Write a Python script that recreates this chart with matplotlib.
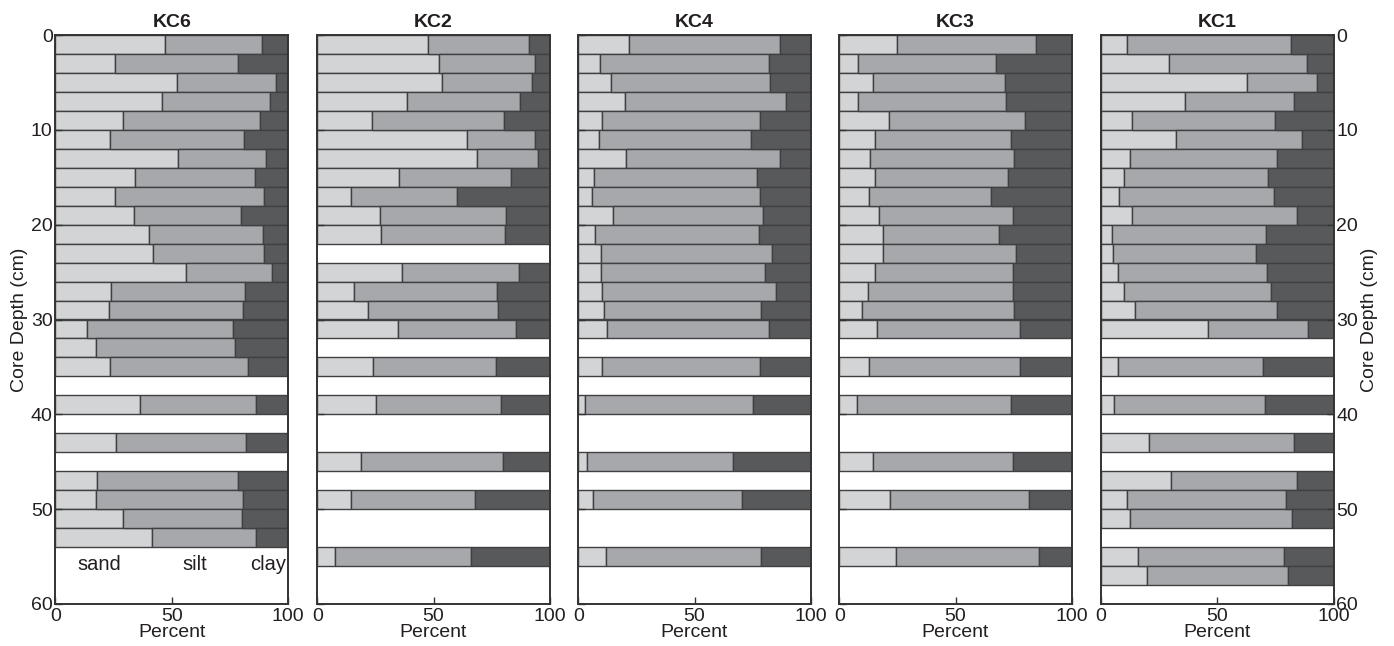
import matplotlib
matplotlib.use("Agg")
import matplotlib.pyplot as plt

plt.rcParams['font.family'] = ['Liberation Sans', 'DejaVu Sans']

cores = ["KC6", "KC2", "KC4", "KC3", "KC1"]

# depth of top of each 2-cm interval (cm)
kc6_depth = [0, 2, 4, 6, 8, 10, 12, 14, 16, 18, 20, 22, 24, 26, 28, 30, 32, 34, 38, 42, 46, 48, 50, 52]
kc6_sand = [47.3, 25.5, 52.1, 45.6, 29.1, 23.6, 52.8, 34.1, 25.5, 33.7, 40.3, 42.0, 56.1, 23.7, 22.9, 13.5, 17.6, 23.3, 36.4, 25.9, 17.8, 17.6, 29.1, 41.6]
kc6_silt = [41.5, 52.8, 42.9, 46.5, 58.7, 57.6, 37.7, 51.5, 64.3, 46.2, 48.9, 47.8, 37.0, 57.9, 57.9, 63.0, 59.8, 59.7, 49.8, 56.0, 60.9, 63.0, 51.0, 44.6]
kc6_clay = [11.2, 21.7, 5.0, 7.9, 12.2, 18.8, 9.5, 14.4, 10.2, 20.1, 10.8, 10.2, 6.9, 18.4, 19.2, 23.5, 22.6, 17.0, 13.8, 18.1, 21.3, 19.4, 19.9, 13.8]

kc2_depth = [0, 2, 4, 6, 8, 10, 12, 14, 16, 18, 20, 24, 26, 28, 30, 34, 38, 44, 48, 54]
kc2_sand = [47.6, 52.4, 53.7, 38.6, 23.6, 64.2, 68.5, 35.1, 14.4, 27.1, 27.6, 36.5, 15.8, 21.6, 34.7, 23.9, 25.3, 18.8, 14.5, 7.5]
kc2_silt = [43.6, 41.3, 38.7, 48.6, 56.7, 29.3, 26.6, 48.1, 45.5, 54.2, 53.3, 50.3, 61.6, 56.1, 50.8, 53.1, 53.5, 61.1, 53.3, 58.5]
kc2_clay = [8.8, 6.3, 7.6, 12.8, 19.7, 6.5, 4.9, 16.8, 40.1, 18.7, 19.1, 13.2, 22.6, 22.3, 14.5, 23.0, 21.2, 20.1, 32.2, 34.0]

kc4_depth = [0, 2, 4, 6, 8, 10, 12, 14, 16, 18, 20, 22, 24, 26, 28, 30, 34, 38, 44, 48, 54]
kc4_sand = [21.6, 9.4, 14.0, 20.1, 10.2, 8.9, 20.6, 6.8, 5.8, 14.8, 7.3, 9.6, 9.6, 10.1, 10.9, 12.4, 10.4, 3.0, 3.9, 6.2, 11.9]
kc4_silt = [65.2, 72.6, 68.3, 69.4, 67.8, 65.2, 66.0, 69.9, 72.2, 64.8, 70.4, 73.6, 70.7, 74.8, 67.8, 69.6, 67.7, 72.0, 62.7, 64.3, 66.8]
kc4_clay = [13.2, 18.0, 17.7, 10.5, 22.0, 25.9, 13.4, 23.3, 22.0, 20.4, 22.3, 16.8, 19.7, 15.1, 21.3, 18.0, 21.9, 25.0, 33.4, 29.5, 21.3]

kc3_depth = [0, 2, 4, 6, 8, 10, 12, 14, 16, 18, 20, 22, 24, 26, 28, 30, 34, 38, 44, 48, 54]
kc3_sand = [24.7, 7.9, 14.3, 8.2, 21.5, 15.5, 13.2, 15.4, 12.6, 16.9, 18.9, 18.8, 15.4, 12.5, 9.8, 16.4, 12.6, 7.5, 14.6, 22.0, 24.4]
kc3_silt = [59.9, 59.4, 57.0, 63.4, 58.4, 58.2, 62.1, 57.1, 52.7, 58.0, 50.0, 57.2, 59.5, 62.4, 65.5, 61.4, 65.2, 66.2, 59.9, 59.6, 61.4]
kc3_clay = [15.4, 32.7, 28.7, 28.4, 20.1, 26.3, 24.7, 27.5, 34.7, 25.1, 31.1, 24.0, 25.1, 25.1, 24.7, 22.2, 22.2, 26.3, 25.5, 18.4, 14.2]

kc1_depth = [0, 2, 4, 6, 8, 10, 12, 14, 16, 18, 20, 22, 24, 26, 28, 30, 34, 38, 42, 46, 48, 50, 54, 56]
kc1_sand = [11.1, 29.3, 62.9, 36.1, 13.3, 32.1, 12.3, 9.7, 7.9, 13.3, 4.6, 5.3, 7.5, 9.7, 14.5, 46.2, 7.2, 5.8, 20.7, 29.9, 11.3, 12.3, 15.9, 19.8]
kc1_silt = [70.5, 59.1, 30.0, 47.0, 61.4, 54.2, 63.6, 62.1, 66.5, 70.8, 66.2, 61.2, 64.0, 63.3, 61.1, 43.0, 62.5, 64.7, 62.1, 54.6, 68.2, 69.8, 62.9, 60.8]
kc1_clay = [18.4, 11.6, 7.1, 16.9, 25.3, 13.7, 24.1, 28.2, 25.6, 15.9, 29.2, 33.5, 28.5, 27.0, 24.4, 10.8, 30.3, 29.5, 17.2, 15.5, 20.5, 17.9, 21.2, 19.4]

data = {
    "KC6": (kc6_depth, kc6_sand, kc6_silt, kc6_clay),
    "KC2": (kc2_depth, kc2_sand, kc2_silt, kc2_clay),
    "KC4": (kc4_depth, kc4_sand, kc4_silt, kc4_clay),
    "KC3": (kc3_depth, kc3_sand, kc3_silt, kc3_clay),
    "KC1": (kc1_depth, kc1_sand, kc1_silt, kc1_clay),
}

c_sand = "#d3d4d6"
c_silt = "#a7a8ab"
c_clay = "#58595b"
edge = "#404042"
txt = "#231f20"

fig = plt.figure(figsize=(13.94, 6.46), dpi=100)
W, H = 1394, 646
lefts_px = [55.5, 317.3, 578.3, 839.3, 1101.0]
width_px = 232.5
top_px, bot_px = 35, 604
fs = 14

for i, name in enumerate(cores):
    ax = fig.add_axes([lefts_px[i] / W, 1 - bot_px / H, width_px / W, (bot_px - top_px) / H])
    d, s, si, c = data[name]
    s_end = [a + b for a, b in zip(s, si)]
    kw = dict(height=2, align='edge', edgecolor=edge, linewidth=1.0)
    ax.barh(d, s, left=0, color=c_sand, **kw)
    ax.barh(d, si, left=s, color=c_silt, **kw)
    ax.barh(d, c, left=s_end, color=c_clay, **kw)
    ax.set_xlim(0, 100)
    ax.set_ylim(60, 0)
    ax.set_xticks([0, 50, 100])
    ax.set_yticks(range(0, 61, 10))
    ax.tick_params(direction='in', labelsize=fs, length=5, width=1, colors='#333333',
                   labelcolor=txt, pad=2)
    ax.tick_params(axis='x', pad=3)
    ax.set_xlabel("Percent", fontsize=fs, color=txt, labelpad=-1)
    ax.set_title(name, fontsize=fs, fontweight='bold', pad=6, color=txt)
    for sp in ax.spines.values():
        sp.set_linewidth(1.4)
        sp.set_color('#333333')
    if i == 0:
        ax.set_ylabel("Core Depth (cm)", fontsize=fs, labelpad=2, color=txt)
        ax.text(19, 55.8, "sand", fontsize=fs + 0.5, ha='center', va='center', color=txt)
        ax.text(60, 55.8, "silt", fontsize=fs + 0.5, ha='center', va='center', color=txt)
        ax.text(91.5, 55.8, "clay", fontsize=fs + 0.5, ha='center', va='center', color=txt)
    elif i == len(cores) - 1:
        ax.yaxis.set_label_position('right')
        ax.yaxis.tick_right()
        ax.tick_params(axis='y', direction='in')
        ax.set_ylabel("Core Depth (cm)", fontsize=fs, rotation=90, labelpad=2, color=txt)
    else:
        ax.set_yticklabels([])

fig.savefig("out.png", dpi=100)
